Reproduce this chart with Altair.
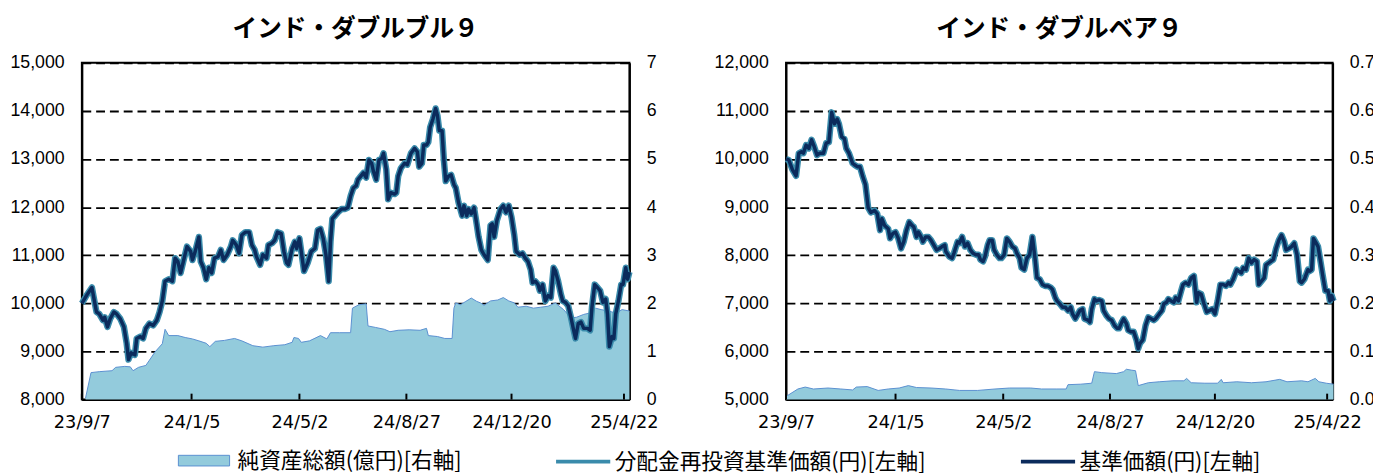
import altair as alt
import pandas as pd

START = "2023-09-07"
END = "2025-04-28"
TICK_DATES = ["2023-09-07", "2024-01-05", "2024-05-02", "2024-08-27", "2024-12-20", "2025-04-22"]

TITLES = ["インド・ダブルブル９", "インド・ダブルベア９"]
S_AUM = "純資産総額(億円)[右軸]"
S_REINV = "分配金再投資基準価額(円)[左軸]"
S_NAV = "基準価額(円)[左軸]"

# ---- インド・ダブルブル９ : 基準価額 (days since 2023-09-07, yen)
BULL_NAV_DAYS = [0, 6, 11, 14, 16, 19, 23, 25, 28, 31, 35, 38, 42, 46, 49, 51, 54, 58, 60, 64, 67, 70, 74, 78, 82, 85, 88, 91, 95, 99,
                 102, 105, 108, 111, 115, 119, 121, 124, 128, 130, 133, 136, 139, 142, 145, 149, 152, 155, 159, 163, 165, 169, 172, 175, 179, 183, 186, 189, 191, 195,
                 198, 202, 204, 208, 211, 214, 218, 221, 224, 226, 230, 233, 235, 238, 241, 243, 247, 251, 255, 258, 261, 264, 267, 270, 272, 274, 277, 280, 284, 288,
                 291, 294, 297, 300, 302, 305, 308, 311, 314, 317, 319, 322, 325, 328, 330, 333, 335, 338, 342, 344, 346, 349, 353, 356, 360, 364, 367, 369, 372, 374,
                 377, 379, 381, 384, 387, 389, 391, 394, 396, 398, 401, 404, 407, 409, 412, 416, 418, 421, 423, 426, 429, 431, 434, 437, 440, 444, 447, 449, 451, 454,
                 458, 461, 464, 467, 470, 473, 475, 479, 482, 485, 488, 491, 493, 496, 499, 501, 504, 507, 510, 513, 516, 518, 521, 524, 526, 529, 532, 535, 538, 540,
                 543, 546, 549, 553, 556, 558, 561, 564, 567, 570, 573, 575, 577, 580, 582, 584, 587, 590, 592, 595, 597, 599]
BULL_NAV = [10000, 10190, 10330, 10020, 9820, 9780, 9650, 9710, 9510, 9680, 9820, 9780, 9680, 9510, 9170, 8830, 8970, 8930, 9270, 9310, 9270, 9480, 9580, 9540, 9650, 9820, 10050, 10460, 10500, 10460,
            10940, 10870, 10630, 10870, 11180, 11080, 10900, 11080, 11380, 10870, 10740, 10500, 10740, 10630, 10940, 10970, 11110, 10900, 11010, 11180, 11310, 11210, 11040, 11420, 11480, 11480, 11210, 11110, 10970, 10800,
            11010, 10940, 11210, 11250, 11310, 11480, 11450, 11080, 10840, 10800, 11140, 11280, 11140, 11350, 10940, 10670, 10840, 11080, 11140, 11520, 11550, 11350, 11010, 10460, 11280, 11760, 11820, 11890, 11960, 11960,
            11990, 12230, 12400, 12440, 12570, 12640, 12710, 12610, 12980, 12910, 12740, 12570, 12980, 13010, 13120, 12780, 12160, 12300, 12270, 12300, 12640, 12810, 12910, 12880, 13120, 13220, 13150, 12840, 12910, 13290,
            13290, 13350, 13660, 13830, 14050, 13900, 13590, 13590, 12980, 12540, 12640, 12670, 12470, 12400, 12100, 11820, 12030, 11820, 11960, 11860, 11990, 11760, 11380, 11110, 11010, 10900, 11620, 11650, 11380, 11720,
            11960, 12030, 11890, 12030, 11790, 11420, 11080, 11010, 11040, 10940, 10870, 10700, 10430, 10460, 10390, 10260, 10390, 10050, 10160, 10120, 10740, 10670, 10460, 10190, 10050, 10020, 9950, 9710, 9440, 9270,
            9580, 9610, 9480, 9480, 9440, 9920, 10390, 10330, 10260, 10020, 10090, 9780, 9100, 9310, 9270, 9780, 10050, 10390, 10390, 10740, 10500, 10650]

# ---- インド・ダブルブル９ : 純資産総額 (億円)
BULL_AUM_DAYS = [4, 10, 19, 33, 37, 47, 53, 56, 62, 70, 74, 80, 88, 91, 95, 105, 113, 121, 128, 136, 140, 146, 156, 167, 175, 187, 198, 210, 222, 230,
                 232, 237, 240, 249, 261, 268, 272, 282, 294, 296, 303, 311, 313, 321, 331, 337, 346, 358, 370, 377, 379, 389, 397, 405, 407, 409, 414, 420, 426, 432,
                 436, 440, 447, 455, 461, 467, 473, 477, 486, 494, 502, 510, 518, 521, 527, 535, 541, 549, 556, 562, 568, 576, 584, 591, 599]
BULL_AUM = [0.03, 0.56, 0.58, 0.60, 0.67, 0.69, 0.68, 0.60, 0.67, 0.71, 0.82, 0.99, 1.16, 1.46, 1.33, 1.33, 1.29, 1.26, 1.22, 1.17, 1.10, 1.21, 1.23, 1.27, 1.22, 1.12, 1.09, 1.12, 1.14, 1.19,
            1.29, 1.27, 1.19, 1.22, 1.33, 1.26, 1.39, 1.39, 1.39, 1.90, 1.97, 1.99, 1.53, 1.50, 1.46, 1.41, 1.44, 1.45, 1.44, 1.48, 1.33, 1.31, 1.27, 1.27, 1.90, 2.01, 1.97, 2.04, 2.11, 2.04,
            2.01, 1.96, 2.05, 2.07, 2.12, 2.05, 2.01, 1.92, 1.94, 1.90, 1.92, 1.94, 2.01, 1.96, 1.87, 1.70, 1.71, 1.77, 1.80, 1.90, 1.87, 1.84, 1.80, 1.87, 1.84]

# ---- インド・ダブルベア９ : 基準価額
BEAR_NAV_DAYS = [0, 3, 7, 11, 14, 17, 19, 22, 25, 28, 31, 34, 37, 41, 44, 47, 50, 53, 56, 58, 61, 64, 66, 69, 73, 75, 78, 81, 84, 87,
                 90, 93, 97, 100, 103, 105, 108, 112, 114, 117, 120, 123, 126, 129, 132, 135, 138, 140, 143, 145, 148, 150, 153, 156, 159, 162, 165, 168, 171, 174,
                 175, 179, 182, 184, 188, 190, 193, 196, 199, 202, 205, 208, 211, 213, 216, 218, 221, 223, 226, 228, 231, 234, 236, 239, 242, 245, 248, 251, 253, 256,
                 258, 261, 264, 267, 270, 273, 275, 278, 281, 284, 287, 290, 292, 295, 297, 300, 303, 306, 309, 312, 314, 317, 320, 322, 325, 327, 331, 333, 335, 338,
                 340, 343, 346, 348, 351, 354, 357, 360, 363, 365, 368, 370, 373, 375, 378, 381, 384, 386, 388, 391, 394, 397, 400, 403, 405, 409, 412, 414, 417, 419,
                 422, 425, 427, 430, 433, 435, 438, 441, 444, 447, 450, 452, 455, 458, 461, 464, 467, 470, 473, 476, 479, 482, 485, 487, 490, 494, 496, 499, 501, 504,
                 507, 510, 513, 516, 518, 521, 524, 526, 529, 531, 534, 537, 540, 543, 546, 548, 551, 554, 557, 560, 563, 565, 568, 572, 574, 576, 578, 581, 583, 586,
                 588, 591, 594, 596, 598, 600]
BEAR_NAV = [10000, 9980, 9780, 9650, 10120, 10150, 10120, 10290, 10220, 10400, 10250, 10080, 10120, 10120, 10330, 10350, 10970, 10730, 10830, 10730, 10460, 10420, 10220, 10120, 9910, 9880, 9840, 9840, 9640, 9470,
            8990, 8890, 8930, 8860, 8520, 8760, 8620, 8550, 8350, 8450, 8480, 8350, 8140, 8280, 8520, 8690, 8620, 8590, 8380, 8480, 8380, 8280, 8380, 8380, 8310, 8210, 8110, 8140, 8180, 8210,
            8080, 7970, 7940, 8040, 8280, 8250, 8380, 8180, 8250, 8110, 8040, 8010, 8010, 7910, 7870, 7970, 8210, 8310, 8310, 8110, 8010, 7940, 7940, 8010, 8350, 8280, 8180, 8140, 8040, 7940,
            7740, 7700, 7940, 8010, 8380, 7910, 7530, 7500, 7390, 7360, 7360, 7330, 7290, 7120, 7050, 6990, 6920, 6920, 6850, 6920, 6780, 6680, 6780, 6850, 6880, 6680, 6650, 6610, 6880, 7090,
            7050, 7070, 7050, 6850, 6750, 6680, 6650, 6540, 6480, 6480, 6610, 6680, 6580, 6440, 6410, 6410, 6240, 6060, 6170, 6240, 6540, 6710, 6680, 6650, 6680, 6780, 6850, 6990, 7020, 7090,
            7050, 7020, 7120, 7050, 7260, 7390, 7430, 7390, 7530, 7570, 7020, 7220, 7190, 6990, 6820, 6850, 6880, 6780, 7050, 7390, 7390, 7360, 7430, 7390, 7500, 7700, 7670, 7630, 7740, 7700,
            7940, 7840, 7910, 7870, 7390, 7460, 7530, 7800, 7840, 7870, 7910, 8140, 8310, 8420, 8280, 8110, 8140, 8180, 8250, 8010, 7460, 7430, 7500, 7700, 7670, 7700, 8350, 8250, 8180, 7840,
            7600, 7260, 7260, 7050, 7160, 7050]

# ---- インド・ダブルベア９ : 純資産総額 (億円)
BEAR_AUM_DAYS = [0, 3, 13, 21, 30, 46, 60, 73, 77, 89, 101, 112, 124, 134, 143, 159, 175, 190, 210, 229, 245, 268, 280, 296, 307, 309, 323, 335, 338, 346,
                 362, 370, 373, 379, 383, 386, 397, 409, 424, 436, 439, 444, 459, 473, 477, 479, 494, 510, 526, 541, 549, 565, 572, 580, 584, 592, 600]
BEAR_AUM = [0.007, 0.010, 0.022, 0.026, 0.022, 0.024, 0.022, 0.020, 0.026, 0.027, 0.019, 0.022, 0.024, 0.029, 0.025, 0.024, 0.022, 0.019, 0.019, 0.022, 0.024, 0.024, 0.022, 0.022, 0.022, 0.031, 0.032, 0.034, 0.058, 0.056,
            0.054, 0.058, 0.063, 0.061, 0.060, 0.029, 0.035, 0.037, 0.039, 0.039, 0.044, 0.035, 0.034, 0.034, 0.042, 0.035, 0.037, 0.035, 0.037, 0.042, 0.037, 0.039, 0.037, 0.044, 0.037, 0.034, 0.032]

BULL_LEFT = [8000, 9000, 10000, 11000, 12000, 13000, 14000, 15000]
BULL_RIGHT = [0, 1, 2, 3, 4, 5, 6, 7]
BEAR_LEFT = [5000, 6000, 7000, 8000, 9000, 10000, 11000, 12000]
BEAR_RIGHT = [0.0, 0.1, 0.2, 0.3, 0.4, 0.5, 0.6, 0.7]

JP = "Noto Sans CJK JP"
NUM = "Liberation Sans"
XFONT = "DejaVu Sans"
NAVY = "#0b2b5c"
TEAL = "#3a8bab"
AREA = "#93cbdc"
AREA_EDGE = "#5a8fd0"
W1, W2, H = 556, 555, 342


def dt(s):
    y, m, d = (int(v) for v in s.split("-"))
    return alt.DateTime(year=y, month=m, date=d, utc=True)


def to_dates(days):
    base = pd.Timestamp(START)
    return [(base + pd.Timedelta(days=int(d))).strftime("%Y-%m-%d") for d in days]


FILL_LEGEND = alt.Legend(orient="none", legendX=113, legendY=393, direction="horizontal", title=None,
                         symbolType="M-2.6,-0.54H2.6V0.54H-2.6Z", symbolSize=400,
                         symbolStrokeColor=AREA_EDGE, symbolStrokeWidth=1, labelOffset=23,
                         labelFont=JP, labelFontSize=22, labelColor="black", labelLimit=600, padding=0)
STROKE_LEGEND = alt.Legend(orient="none", legendX=497, legendY=393, direction="horizontal", title=None,
                           symbolType="M-2.75,0H2.75", symbolSize=400, symbolStrokeWidth=4,
                           labelOffset=20, columnPadding=88, labelFont=JP, labelFontSize=22,
                           labelColor="black", labelLimit=600, padding=0)


def panel(title, width, nav_days, nav, aum_days, aum, left_vals, right_vals, right_fmt, show_legend):
    nav_df = pd.DataFrame({"date": to_dates(nav_days), "value": nav})
    reinv_df = nav_df.assign(series=S_REINV)
    base_df = nav_df.assign(series=S_NAV)
    aum_df = pd.DataFrame({"date": to_dates(aum_days), "value": aum, "series": S_AUM})
    tick_df = pd.DataFrame({"date": TICK_DATES})

    xaxis = alt.Axis(values=[dt(s) for s in TICK_DATES], format="%y/%-m/%-d", title=None, grid=False,
                     ticks=False, domain=True, domainColor="black", domainWidth=2, labelFont=XFONT,
                     labelFontSize=18, labelColor="black", labelPadding=14, labelOverlap=False, labelFlush=False)
    xenc = alt.X("date:T", scale=alt.Scale(type="utc", domain=[dt(START), dt(END)]), axis=xaxis)

    laxis = alt.Axis(values=left_vals, format=",.0f", title=None, grid=True, gridDash=[9, 5], gridColor="black",
                     gridWidth=1.8, ticks=False, domain=True, domainColor="black", domainWidth=2,
                     labelFont=NUM, labelFontSize=18, labelColor="black", labelPadding=18)
    raxis = alt.Axis(orient="right", values=right_vals, format=right_fmt, title=None, grid=False, ticks=False,
                     domain=True, domainColor="black", domainWidth=2, labelFont=NUM, labelFontSize=18,
                     labelColor="black", labelPadding=17)
    lscale = alt.Scale(domain=[left_vals[0], left_vals[-1]], nice=False, zero=False)
    rscale = alt.Scale(domain=[right_vals[0], right_vals[-1]], nice=False)

    fill_legend = FILL_LEGEND if show_legend else None
    stroke_legend = STROKE_LEGEND if show_legend else None

    area = alt.Chart(aum_df).mark_area(opacity=1).encode(
        x=xenc, y=alt.Y("value:Q", scale=rscale, axis=raxis),
        fill=alt.Fill("series:N", scale=alt.Scale(domain=[S_AUM], range=[AREA]), legend=fill_legend))
    edge = alt.Chart(aum_df).mark_line(color=AREA_EDGE, strokeWidth=1).encode(
        x=xenc, y=alt.Y("value:Q", scale=rscale, axis=raxis))

    stroke_scale = alt.Scale(domain=[S_REINV, S_NAV], range=[TEAL, NAVY])
    teal = alt.Chart(reinv_df).mark_line(strokeWidth=6.5, strokeJoin="round").encode(
        x=xenc, y=alt.Y("value:Q", scale=lscale, axis=laxis),
        stroke=alt.Stroke("series:N", scale=stroke_scale, legend=stroke_legend))
    navy = alt.Chart(base_df).mark_line(strokeWidth=3.5, strokeJoin="round").encode(
        x=xenc, y=alt.Y("value:Q", scale=lscale, axis=laxis),
        stroke=alt.Stroke("series:N", scale=stroke_scale, legend=stroke_legend))
    ticks = alt.Chart(tick_df).mark_rule(color="black", strokeWidth=2).encode(
        x=xenc, y=alt.value(H), y2=alt.value(H - 6))

    return alt.layer(alt.layer(area, edge), alt.layer(teal, navy, ticks)).resolve_scale(
        y="independent").properties(
        width=width, height=H,
        title=alt.TitleParams(title, anchor="middle", frame="group", font=JP, fontSize=25,
                              fontWeight="bold", color="black", offset=12))


p1 = panel(TITLES[0], W1, BULL_NAV_DAYS, BULL_NAV, BULL_AUM_DAYS, BULL_AUM, BULL_LEFT, BULL_RIGHT, "d", True)
p2 = panel(TITLES[1], W2, BEAR_NAV_DAYS, BEAR_NAV, BEAR_AUM_DAYS, BEAR_AUM, BEAR_LEFT, BEAR_RIGHT, ".1f", False)

chart = alt.hconcat(p1, p2, spacing=53).properties(
    padding={"left": 0, "top": 5, "right": -3, "bottom": 0}).configure_view(
    stroke="black", strokeWidth=2)

chart.save("out.html", embed_options={"renderer": "svg", "actions": False})
